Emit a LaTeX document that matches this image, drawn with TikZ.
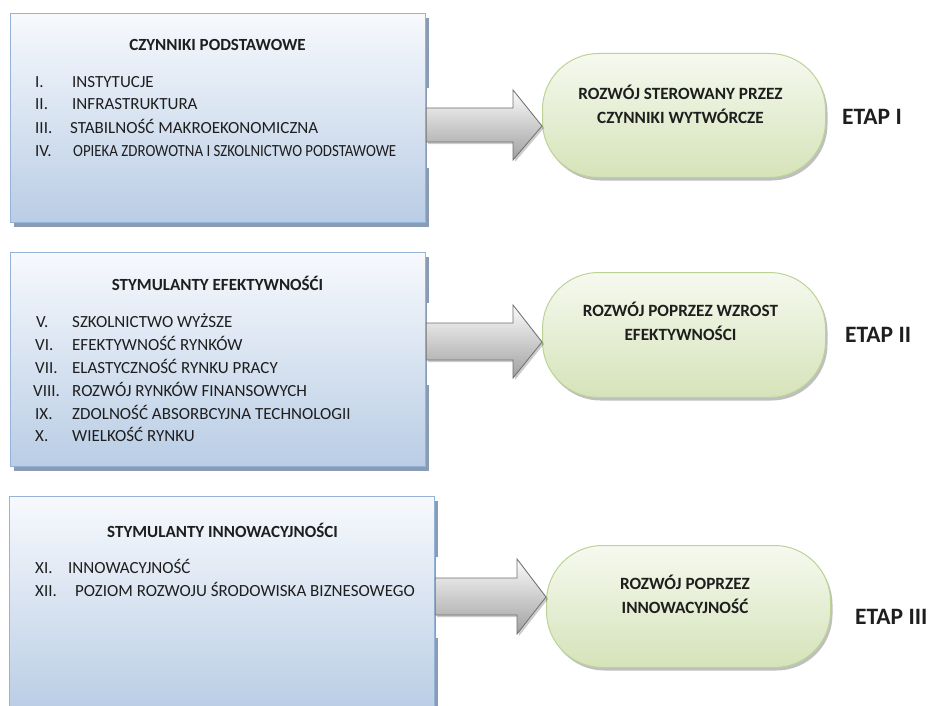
\documentclass[tikz,border=0pt]{standalone}
\usepackage{fontspec}
\setmainfont{Carlito}
\usetikzlibrary{shadows,calc}
\definecolor{boxtop}{HTML}{F7F9FD}
\definecolor{boxbot}{HTML}{B9CDE5}
\definecolor{boxline}{HTML}{95B3D7}
\definecolor{boxshadow}{HTML}{8A9CB4}
\definecolor{pilltop}{HTML}{F6F9EF}
\definecolor{pillbot}{HTML}{D5E3B9}
\definecolor{pillline}{HTML}{BDD396}
\definecolor{arrtop}{HTML}{FBFBFB}
\definecolor{arrbot}{HTML}{A0A0A0}
\definecolor{arrline}{HTML}{6F6F6F}
\definecolor{txt}{HTML}{1E1E1E}
\tikzset{
  factorbox/.style={draw=boxline, line width=1.2pt, top color=boxtop, bottom color=boxbot,
    anchor=north west, inner sep=0pt,
    drop shadow={fill=boxshadow, opacity=1, shadow xshift=3.5pt, shadow yshift=-4pt}},
  pill/.style={draw=pillline, line width=1pt, top color=pilltop, bottom color=pillbot,
    rounded corners=56pt, anchor=north west, inner sep=0pt,
    drop shadow={fill=black, opacity=0.25, shadow xshift=2pt, shadow yshift=-3pt}},
  bigarrow/.style={draw=arrline, line width=0.8pt, top color=arrtop, bottom color=arrbot,
    drop shadow={fill=black, opacity=0.2, shadow xshift=2pt, shadow yshift=-2pt}},
  boxtitle/.style={font=\fontsize{17}{19}\selectfont\bfseries, text=txt, inner sep=0pt, anchor=base},
  num/.style={font=\fontsize{17}{19}\selectfont, text=txt, anchor=base west, inner sep=0pt},
  itemtext/.style={font=\fontsize{17}{19}\selectfont, text=txt, anchor=base west, inner sep=0pt},
  pilltext/.style={font=\fontsize{17.2}{24}\selectfont\bfseries, text=txt, align=center, inner sep=0pt},
  etap/.style={font=\fontsize{23.5}{28}\selectfont\bfseries, text=txt, anchor=west, inner sep=0pt},
}
\begin{document}
\begin{tikzpicture}[x=1pt,y=-1pt]
\useasboundingbox[fill=white] (0,0) rectangle (928,706);

% ---- boxes
\node[factorbox, minimum width=415pt, minimum height=209pt] (b1) at (10,13) {};
\node[factorbox, minimum width=415pt, minimum height=214pt] (b2) at (10,252) {};
\node[factorbox, minimum width=425pt, minimum height=215pt] (b3) at (9,496) {};

% ---- pills
\node[pill, minimum width=283pt, minimum height=124pt] (p1) at (542,53) {};
\node[pill, minimum width=283pt, minimum height=125pt] (p2) at (542,272) {};
\node[pill, minimum width=284pt, minimum height=122pt] (p3) at (546,545) {};

% ---- gaps in box shadows behind the arrows
\fill[white] (426.5,88) rectangle (433,168);
\fill[white] (426.5,303) rectangle (433,385);
\fill[white] (435.5,557) rectangle (442,638);

% ---- arrows (box -> pill)
\coordinate (a1t) at (p1.west |- 0,126);
\coordinate (a2t) at (p2.west |- 0,342);
\coordinate (a3t) at (p3.west |- 0,597);
\draw[bigarrow] (b1.east |- 0,108) -- (513,108) -- (513,90) -- (a1t) -- (513,160) -- (513,142) -- (b1.east |- 0,142) -- cycle;
\draw[bigarrow] (b2.east |- 0,323) -- (513,323) -- (513,305) -- (a2t) -- (513,378) -- (513,360) -- (b2.east |- 0,360) -- cycle;
\draw[bigarrow] (b3.east |- 0,578) -- (517,578) -- (517,559) -- (a3t) -- (517,634) -- (517,615) -- (b3.east |- 0,615) -- cycle;

% ---- box 1 text
\node[boxtitle] (t1) at (217.5,50.5) {CZYNNIKI PODSTAWOWE};
\node[num] (n1) at (35,87.5) {I.};
\node[itemtext] (i1) at (72,87.5) {INSTYTUCJE};
\node[num] (n2) at (35,110) {II.};
\node[itemtext] (i2) at (72,110) {INFRASTRUKTURA};
\node[num] (n3) at (35,133) {III.};
\node[itemtext] (i3) at (70,133) {STABILNOŚĆ MAKROEKONOMICZNA};
\node[num] (n4) at (35,156.5) {IV.};
\node[itemtext] (i4) at (73,156.5) {\scalebox{0.875}[1]{OPIEKA ZDROWOTNA I SZKOLNICTWO PODSTAWOWE}};

% ---- box 2 text
\node[boxtitle] (t2) at (217.5,290.5) {STYMULANTY EFEKTYWNOŚĆI};
\node[num] (n5) at (36,327.5) {V.};
\node[itemtext] (i5) at (72,327.5) {SZKOLNICTWO WYŻSZE};
\node[num] (n6) at (35,350.5) {VI.};
\node[itemtext] (i6) at (72,350.5) {EFEKTYWNOŚĆ RYNKÓW};
\node[num] (n7) at (35,373) {VII.};
\node[itemtext] (i7) at (72,373) {ELASTYCZNOŚĆ RYNKU PRACY};
\node[num] (n8) at (33,396) {VIII.};
\node[itemtext] (i8) at (72,396) {ROZWÓJ RYNKÓW FINANSOWYCH};
\node[num] (n9) at (35,419) {IX.};
\node[itemtext] (i9) at (72,419) {ZDOLNOŚĆ ABSORBCYJNA TECHNOLOGII};
\node[num] (n10) at (35,441.5) {X.};
\node[itemtext] (i10) at (72,441.5) {WIELKOŚĆ RYNKU};

% ---- box 3 text
\node[boxtitle] (t3) at (222.5,537.5) {STYMULANTY INNOWACYJNOŚCI};
\node[num] (n11) at (35,573.5) {XI.};
\node[itemtext] (i11) at (68,573.5) {INNOWACYJNOŚĆ};
\node[num] (n12) at (35,596.5) {XII.};
\node[itemtext] (i12) at (75,596.5) {POZIOM ROZWOJU ŚRODOWISKA BIZNESOWEGO};

% ---- pill text
\node[pilltext] (pt1) at (680.5,104) {ROZWÓJ STEROWANY PRZEZ\\CZYNNIKI WYTWÓRCZE};
\node[pilltext] (pt2) at (680.5,321) {ROZWÓJ POPRZEZ WZROST\\EFEKTYWNOŚCI};
\node[pilltext] (pt3) at (685,594.5) {ROZWÓJ POPRZEZ\\INNOWACYJNOŚĆ};

% ---- stage labels
\node[etap] (e1) at (842,117) {ETAP I};
\node[etap] (e2) at (845,335) {ETAP II};
\node[etap] (e3) at (855,617) {ETAP III};
\end{tikzpicture}
\end{document}
